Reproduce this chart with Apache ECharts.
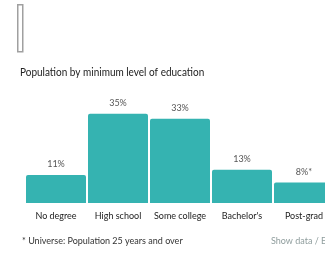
<!DOCTYPE html>
<html>
<head>
<meta charset="utf-8">
<script src="https://cdn.jsdelivr.net/npm/echarts@6/dist/echarts.min.js"></script>
<style>
  html, body { margin: 0; padding: 0; background: #fff; }
  #chart { width: 325px; height: 255px; }
</style>
</head>
<body>
<div id="chart"></div>
<script>
// data
var categories = ["No degree", "High school", "Some college", "Bachelor's", "Post-grad"];
var shares = [11, 35, 33, 13, 8];
var shareLabels = ["11%", "35%", "33%", "13%", "8%*"];

var myChart = echarts.init(document.getElementById("chart"));
var font = "Lato, sans-serif";

var option = {
    animation: false,
    textStyle: { fontFamily: font },
    // last bar runs past the right edge, like the original
    grid: { left: 25, width: 310, top: 101, bottom: 52, outerBoundsMode: "none" },
    // grey marker top-left, title and footer
    graphic: [
        { type: "rect", left: 17, top: 4, shape: { width: 5, height: 47 },
          style: { fill: "#fff", stroke: "#a0a0a0", lineWidth: 1.5 } },
        { type: "text", x: 20, y: 66, scaleX: 0.87,
          style: { text: "Population by minimum level of education", font: "11.5px " + font, fill: "#222" } },
        { type: "text", x: 22, y: 237,
          style: { text: "* Universe: Population 25 years and over", font: "9px " + font, fill: "#333" } },
        { type: "text", x: 271, y: 237,
          style: { text: "Show data / Embed", font: "9px " + font, fill: "#8f9d9d" } }
    ],
    xAxis: {
        type: "category",
        data: categories,
        axisLine: { show: false },
        axisTick: { show: false },
        axisLabel: { color: "#222", fontSize: 9, margin: 9, interval: 0 }
    },
    yAxis: {
        type: "value",
        min: 0,
        max: 40,
        show: false
    },
    series: [{
        type: "bar",
        data: shares,
        barWidth: 60,
        itemStyle: { color: "#35b3b1", borderRadius: [2, 2, 0, 0] },
        label: {
            show: true,
            position: "top",
            distance: 6,
            color: "#555",
            fontSize: 9,
            formatter: function (p) { return shareLabels[p.dataIndex]; }
        }
    }]
};

myChart.setOption(option);
</script>
</body>
</html>
